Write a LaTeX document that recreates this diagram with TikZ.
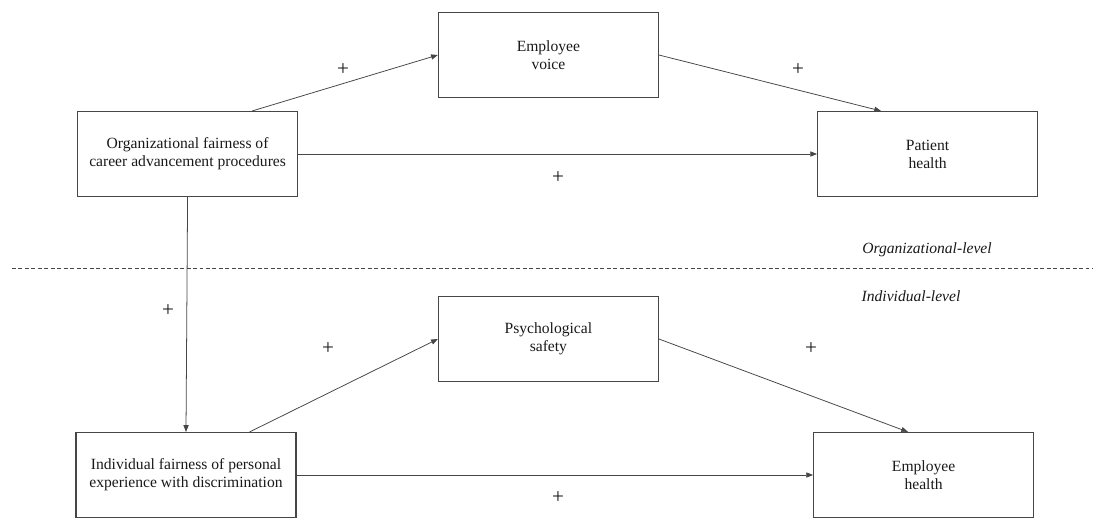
\documentclass[tikz,border=0pt]{standalone}
\usepackage{fontspec}
\setmainfont{Liberation Serif}
\usepackage{tikz}
\usetikzlibrary{arrows.meta,positioning,calc}
\definecolor{lngray}{RGB}{70,70,70}
\definecolor{txtgray}{RGB}{25,25,25}

\begin{document}
\begin{tikzpicture}[
  varbox/.style={draw=lngray, line width=0.75pt, minimum width=5.5cm, minimum height=2.125cm, align=center, text=txtgray, font=\fontsize{11.1}{12.8}\selectfont},
  link/.style={draw=lngray, line width=0.55pt, -{Triangle[length=1.7mm,width=1.3mm]}},
  sign/.style={text=txtgray, inner sep=0pt, font=\fontsize{15}{15}\selectfont},
  levellbl/.style={text=txtgray, font=\fontsize{11.1}{12.8}\selectfont\itshape}]
  \useasboundingbox (0,0) rectangle (27.325,12.975);

  % organizational level
  \node[varbox] (orgfair) at (4.69,9.125) {Organizational fairness of\\career advancement procedures};
  \node[varbox] (voice) at (13.71,11.6) {Employee\\voice};
  \node[varbox] (patient) at (23.19,9.125) {Patient\\health};

  % individual level
  \node[varbox] (indfair) at (4.65,1.1) {Individual fairness of personal\\experience with discrimination};
  \node[varbox] (safety) at (13.71,4.5) {Psychological\\safety};
  \node[varbox] (emphealth) at (23.09,1.1) {Employee\\health};

  % level divider
  \coordinate (divl) at (0.3,6.275);
  \coordinate (divr) at (27.325,6.275);
  \draw[lngray, line width=0.5pt, dash pattern=on 2.8pt off 1.8pt] (divl) -- (divr);
  \node[levellbl] (orglevel) at (23.175,6.725) {Organizational-level};
  \node[levellbl] (indlevel) at (22.775,5.575) {Individual-level};

  % paths
  \draw[link] ([xshift=-1.15cm]orgfair.north east) -- (voice.west);
  \draw[link] (voice.east) -- ([xshift=1.6cm]patient.north west);
  \draw[link] (orgfair.east) -- (patient.west);
  \draw[link] (orgfair.south) -- (indfair.north);
  \draw[link] ([xshift=-1.175cm]indfair.north east) -- (safety.west);
  \draw[link] (safety.east) -- ([xshift=2.375cm]emphealth.north west);
  \draw[link] (indfair.east) -- (emphealth.west);

  % signs
  \node[sign] (s1) at (8.575,11.225) {+};
  \node[sign] (s2) at (19.95,11.225) {+};
  \node[sign] (s3) at (13.95,8.525) {+};
  \node[sign] (s4) at (4.2,5.2) {+};
  \node[sign] (s5) at (8.2,4.25) {+};
  \node[sign] (s6) at (20.275,4.25) {+};
  \node[sign] (s7) at (13.95,0.525) {+};
\end{tikzpicture}
\end{document}
